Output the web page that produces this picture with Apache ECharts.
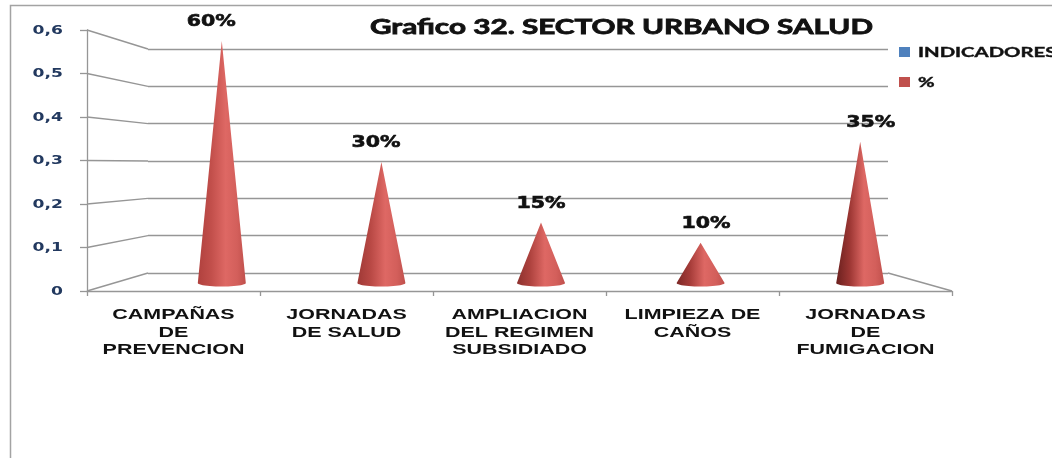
<!DOCTYPE html>
<html>
<head>
<meta charset="utf-8">
<script src="https://cdn.jsdelivr.net/npm/echarts@6/dist/echarts.min.js"></script>
<style>
  html, body { margin: 0; padding: 0; background: #ffffff; }
  #chart { width: 1052px; height: 458px; }
</style>
</head>
<body>
<div id="chart"></div>
<script>
// Chart content
const chartTitle = 'Grafico 32. SECTOR URBANO SALUD';
const categories = [
  'CAMPAÑAS\nDE\nPREVENCION',
  'JORNADAS\nDE SALUD',
  'AMPLIACION\nDEL REGIMEN\nSUBSIDIADO',
  'LIMPIEZA DE\nCAÑOS',
  'JORNADAS\nDE\nFUMIGACION'
];
const percentValues = [0.6, 0.3, 0.15, 0.1, 0.35];
const yTicks = [0, 0.1, 0.2, 0.3, 0.4, 0.5, 0.6];
const legendNames = ['INDICADORES', '%'];
const legendColors = ['#4f81bd', '#c0504d'];

// Layout of the pseudo-3D box: front plane, back wall and the middle plane holding the cones
const FRONT = { left: 87, top: 30, width: 865, height: 261 };
const BACK = { left: 148, top: 49, width: 740, height: 224 };
const MID = { left: 142, top: 41, width: 798, height: 242 };
const LINE = '#969696';

const measureCtx = document.createElement('canvas').getContext('2d');
function textWidth(text, font) {
  measureCtx.font = font;
  return measureCtx.measureText(text).width;
}
function fmtTick(v) {
  return v === 0 ? '0' : v.toFixed(1).replace('.', ',');
}
function pct(v) {
  return Math.round(v * 100) + '%';
}
// Shadow side of each cone gets deeper towards the right of the chart
function mix(a, b, t) {
  const pa = [1, 3, 5].map(k => parseInt(a.substr(k, 2), 16));
  const pb = [1, 3, 5].map(k => parseInt(b.substr(k, 2), 16));
  return 'rgb(' + pa.map((c, k) => Math.round(c + (pb[k] - c) * t)).join(',') + ')';
}

const chart = echarts.init(document.getElementById('chart'), null, { renderer: 'canvas' });

const yBase = { type: 'value', min: 0, max: 0.6, interval: 0.1 };
const hiddenCat = { type: 'category', data: categories, show: false };

chart.setOption({
  animation: false,
  backgroundColor: '#ffffff',
  grid: [
    Object.assign({}, FRONT),
    Object.assign({}, BACK),
    Object.assign({}, MID)
  ],
  xAxis: [
    {
      gridIndex: 0, type: 'category', data: categories, boundaryGap: true,
      axisLine: { show: true, lineStyle: { color: LINE, width: 1.3 } },
      axisTick: { show: true, length: 5, interval: 0, lineStyle: { color: LINE, width: 1.3 } },
      axisLabel: { show: false }
    },
    Object.assign({ gridIndex: 1 }, hiddenCat),
    Object.assign({ gridIndex: 2 }, hiddenCat)
  ],
  yAxis: [
    Object.assign({ gridIndex: 0 }, yBase, {
      axisLine: { show: true, lineStyle: { color: LINE, width: 1.3 } },
      axisTick: { show: true, length: 7, lineStyle: { color: LINE, width: 1.3 } },
      axisLabel: { show: false },
      splitLine: { show: false }
    }),
    Object.assign({ gridIndex: 1 }, yBase, {
      axisLine: { show: false }, axisTick: { show: false }, axisLabel: { show: false },
      splitLine: { show: true, lineStyle: { color: LINE, width: 1.4 } }
    }),
    Object.assign({ gridIndex: 2 }, yBase, { show: false, splitLine: { show: false } })
  ],
  series: [
    {
      name: legendNames[0], type: 'bar', xAxisIndex: 2, yAxisIndex: 2, data: []
    },
    {
      name: legendNames[1],
      type: 'custom',
      xAxisIndex: 2,
      yAxisIndex: 2,
      z: 5,
      encode: { x: 0, y: 1 },
      data: percentValues.map((v, i) => [i, v]),
      renderItem: function (params, api) {
        const i = api.value(0);
        const v = api.value(1);
        const base = api.coord([i, 0]);
        const tip = api.coord([i, v]);
        const r = 24, ry = 3.5;
        const pts = [[base[0] - r, base[1]], [tip[0], tip[1]], [base[0] + r, base[1]]];
        for (let k = 1; k < 24; k++) {
          const t = Math.PI * k / 24;
          pts.push([base[0] + r * Math.cos(t), base[1] + ry * Math.sin(t)]);
        }
        const shade = i / (categories.length - 1);
        const font = 'bold 16px "DejaVu Sans"';
        return {
          type: 'group',
          children: [
            {
              type: 'polygon',
              shape: { points: pts },
              style: {
                fill: new echarts.graphic.LinearGradient(0, 0, 1, 0, [
                  { offset: 0, color: mix('#b0413e', '#6a201e', shade) },
                  { offset: 0.28, color: mix('#c24f4b', '#9c3633', shade) },
                  { offset: 0.58, color: '#de6864' },
                  { offset: 0.82, color: '#d35f5b' },
                  { offset: 1, color: '#c0504c' }
                ])
              }
            },
            {
              type: 'text',
              x: tip[0] + (i - 2) * 5.3,
              y: tip[1] - 19,
              scaleX: 1.28,
              style: {
                text: pct(v), font: font, fill: '#111111',
                stroke: '#111111', lineWidth: 0.6,
                align: 'center', textAlign: 'center',
                verticalAlign: 'middle', textVerticalAlign: 'middle'
              }
            }
          ]
        };
      }
    }
  ]
});

// Frame lines joining the front plane to the back wall, plus stretched text
const graphics = [];
graphics.push({
  type: 'rect', z: 0, silent: true,
  shape: { x: 10.5, y: 5.5, width: 1100, height: 500 },
  style: { fill: null, stroke: '#a3a3a3', lineWidth: 1.5 }
});
yTicks.forEach(function (v) {
  const yf = chart.convertToPixel({ yAxisIndex: 0 }, v);
  const yb = chart.convertToPixel({ yAxisIndex: 1 }, v);
  graphics.push({
    type: 'line', z: 1, silent: true,
    shape: { x1: FRONT.left, y1: yf, x2: BACK.left, y2: yb },
    style: { stroke: LINE, lineWidth: 1.4 }
  });
  const lf = 'bold 12px "DejaVu Sans"';
  graphics.push({
    type: 'text', z: 3, x: 63, y: yf + 0.5, scaleX: 1.43,
    style: {
      text: fmtTick(v), font: lf, fill: '#22395f',
      align: 'right', textAlign: 'right', verticalAlign: 'middle', textVerticalAlign: 'middle'
    }
  });
});
{
  const yf0 = chart.convertToPixel({ yAxisIndex: 0 }, 0);
  const yb0 = chart.convertToPixel({ yAxisIndex: 1 }, 0);
  graphics.push({
    type: 'line', z: 1, silent: true,
    shape: { x1: BACK.left + BACK.width, y1: yb0, x2: FRONT.left + FRONT.width, y2: yf0 },
    style: { stroke: LINE, lineWidth: 1.4 }
  });
}
categories.forEach(function (c, i) {
  const x = chart.convertToPixel({ xAxisIndex: 0 }, i);
  graphics.push({
    type: 'text', z: 3, x: x, y: 306.5, scaleX: 1.43,
    style: {
      text: c, font: 'bold 15px "Liberation Sans"', fill: '#111111', lineHeight: 17.5,
      align: 'center', textAlign: 'center', verticalAlign: 'top', textVerticalAlign: 'top'
    }
  });
});
{
  const tf = 'bold 21px Lato';
  graphics.push({
    type: 'text', z: 3, x: 621.5, y: 27, scaleX: 503 / textWidth(chartTitle, tf),
    style: {
      text: chartTitle, font: tf, fill: '#111111',
      stroke: '#111111', lineWidth: 0.8,
      align: 'center', textAlign: 'center', verticalAlign: 'middle', textVerticalAlign: 'middle'
    }
  });
}
legendNames.forEach(function (n, k) {
  const cy = 52 + k * 30;
  graphics.push({
    type: 'rect', z: 3, shape: { x: 899, y: cy - 5, width: 11, height: 10 },
    style: { fill: legendColors[k] }
  });
  graphics.push({
    type: 'text', z: 3, x: 918, y: cy, scaleX: 1.45,
    style: {
      text: n, font: 'bold 14px Lato', fill: '#111111',
      stroke: '#111111', lineWidth: 0.4,
      align: 'left', textAlign: 'left', verticalAlign: 'middle', textVerticalAlign: 'middle'
    }
  });
});
chart.setOption({ graphic: graphics });
</script>
</body>
</html>
